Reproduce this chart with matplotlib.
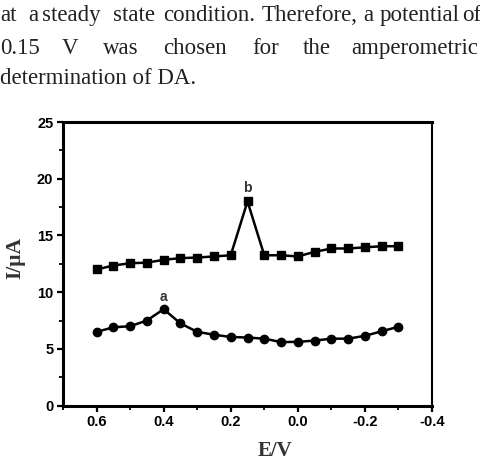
import numpy as np
import matplotlib
matplotlib.use("Agg")
import matplotlib.pyplot as plt
from matplotlib.ticker import MultipleLocator

# potentials (V), scanned from 0.6 down to -0.3
potential = [0.60, 0.55, 0.50, 0.45, 0.40, 0.35, 0.30, 0.25, 0.20, 0.15,
             0.10, 0.05, 0.00, -0.05, -0.10, -0.15, -0.20, -0.25, -0.30]
# curve a (circles)
current_a = [6.5, 6.9, 7.0, 7.5, 8.5, 7.25, 6.5, 6.25, 6.05, 6.0,
             5.9, 5.6, 5.62, 5.73, 5.9, 5.9, 6.15, 6.55, 6.95]
# curve b (squares)
current_b = [12.0, 12.35, 12.55, 12.6, 12.85, 13.0, 13.05, 13.15, 13.25, 18.0,
             13.25, 13.25, 13.15, 13.55, 13.85, 13.85, 13.95, 14.05, 14.05]

# paragraph above the figure (justified)
para_line1 = [("at", 0), ("a", 28), ("steady", 42), ("state", 113), ("condition.", 163),
              ("Therefore,", 262), ("a", 363), ("potential", 380), ("of", 462)]
para_line2 = [("0.15", 0), ("V", 62), ("was", 103), ("chosen", 163),
              ("for", 252), ("the", 303), ("amperometric", 351)]
para_line3 = [("determination of DA.", 0)]

W, H = 481, 462
fig = plt.figure(figsize=(W / 100, H / 100), dpi=100)

serif = "Liberation Serif"
for line, base in [(para_line1, 21), (para_line2, 54), (para_line3, 84)]:
    for word, px in line:
        fig.text(px / W, 1 - base / H, word, fontsize=16.5, family=serif,
                 color="#222222", va="baseline", ha="left")

ax = fig.add_axes([63 / W, 1 - 405.6 / H, (432 - 63) / W, (405.6 - 122) / H])

ax.plot(potential, current_b, color="black", lw=1.8, marker="s", ms=6)
ax.plot(potential, current_a, color="black", lw=1.8, marker="o", ms=6)

ax.text(0.40, 9.0, "a", ha="center", va="bottom", fontsize=10, fontweight="bold",
        family="Liberation Sans", color="#333333")
ax.text(0.15, 18.6, "b", ha="center", va="bottom", fontsize=10, fontweight="bold",
        family="Liberation Sans", color="#333333")

ax.set_xlim(0.7, -0.4)
ax.set_ylim(0, 25)
ax.xaxis.set_major_locator(MultipleLocator(0.2))
ax.xaxis.set_minor_locator(MultipleLocator(0.1))
ax.yaxis.set_major_locator(MultipleLocator(5))
ax.yaxis.set_minor_locator(MultipleLocator(2.5))
ax.tick_params(which="major", direction="out", length=4, width=1.6,
               top=False, right=False, labelsize=10.5, pad=3)
ax.tick_params(which="minor", direction="out", length=3, width=1.3,
               top=False, right=False)
ax.set_xticks([0.6, 0.4, 0.2, 0.0, -0.2, -0.4])
ax.set_xticklabels(["0.6", "0.4", "0.2", "0.0", "-0.2", "-0.4"])
for lab in ax.get_xticklabels() + ax.get_yticklabels():
    lab.set_fontweight("bold")
    lab.set_family("Liberation Sans")

for side in ["left", "top", "bottom"]:
    ax.spines[side].set_linewidth(2.2)
ax.spines["right"].set_linewidth(1.5)

fig.text(275 / W, 1 - 456 / H, "E/V", fontsize=15, fontweight="bold", family=serif,
         ha="center", va="baseline", color="#333333")
fig.text(15 / W, 1 - 258 / H, "I/\u03bcA", fontsize=15.5, fontweight="bold", family=serif,
         ha="center", va="center", rotation=90, color="#333333")

fig.savefig("out.png", dpi=100)
